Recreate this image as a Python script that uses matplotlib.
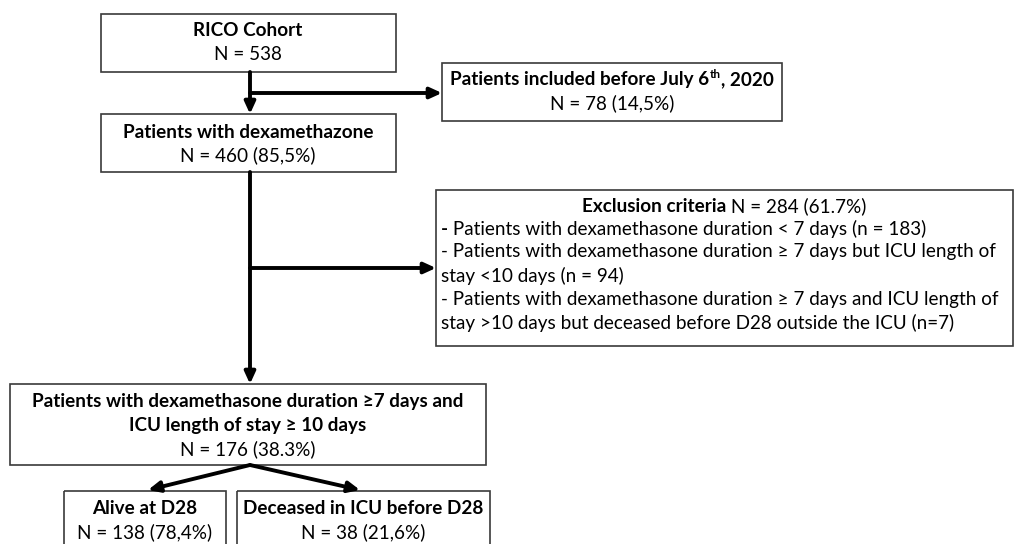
import matplotlib
matplotlib.use("Agg")
import matplotlib.pyplot as plt
from matplotlib.patches import Rectangle

plt.rcParams['font.family'] = ['Lato', 'DejaVu Sans']

# counts shown in the flow chart
cohort_n = 538
dexa_n, dexa_pct = 460, "85,5%"
early_n, early_pct = 78, "14,5%"
excl_n, excl_pct = 284, "61.7%"
excl_counts = [183, 94, 7]
final_n, final_pct = 176, "38.3%"
alive_n, alive_pct = 138, "78,4%"
dead_n, dead_pct = 38, "21,6%"

FS = 13.6
W, H = 1015, 544
fig = plt.figure(figsize=(W / 100, H / 100), dpi=100)
ax = fig.add_axes([0, 0, 1, 1])
ax.set_xlim(0, W)
ax.set_ylim(H, 0)
ax.axis('off')
renderer = fig.canvas.get_renderer()


def box(x0, y0, x1, y1):
    ax.add_patch(Rectangle((x0, y0), x1 - x0, y1 - y0, fill=False,
                           edgecolor='#3a3a3a', lw=1.2))


def line(x, y, segs, ha='center'):
    # segs: list of (text, weight[, size, dy])
    items = []
    total = 0
    for s in segs:
        txt, wt = s[0], s[1]
        size = s[2] if len(s) > 2 else FS
        dy = s[3] if len(s) > 3 else 0
        t = ax.text(0, y + dy, txt, fontsize=size, fontweight=wt,
                    va='center', ha='left', color='black')
        w = t.get_window_extent(renderer).width
        items.append((t, w))
        total += w
    cur = x - total / 2 if ha == 'center' else x
    for t, w in items:
        t.set_x(cur)
        cur += w


def arrow(x0, y0, x1, y1):
    ax.annotate('', xy=(x1, y1), xytext=(x0, y0),
                arrowprops=dict(arrowstyle='-|>,head_length=0.7,head_width=0.32',
                                lw=2.8, color='black', shrinkA=0, shrinkB=0))


# boxes
box(101, 14, 396, 72)
line(248, 31, [("RICO Cohort", 'bold')])
line(248, 55, [(f"N = {cohort_n}", 'normal')])

box(442, 63, 782, 121)
line(612, 80, [("Patients included before July 6", 'bold'),
               ("th", 'bold', FS * 0.62, -5), (", 2020", 'bold')])
line(612, 103, [(f"N = {early_n} ({early_pct})", 'normal')])

box(101, 114, 396, 172)
line(248, 132, [("Patients with dexamethazone", 'bold')])
line(248, 155, [(f"N = {dexa_n} ({dexa_pct})", 'normal')])

box(436, 190, 1013, 346)
line(724, 206, [("Exclusion criteria", 'bold'), (f" N = {excl_n} ({excl_pct})", 'normal')])
line(441, 229, [("-", 'bold'), (f" Patients with dexamethasone duration < 7 days (n = {excl_counts[0]})", 'normal')], ha='left')
line(441, 252, [("- Patients with dexamethasone duration \u2265 7 days but ICU length of", 'normal')], ha='left')
line(441, 276, [(f"stay <10 days (n = {excl_counts[1]})", 'normal')], ha='left')
line(441, 299, [("- Patients with dexamethasone duration \u2265 7 days and ICU length of", 'normal')], ha='left')
line(441, 323, [(f"stay >10 days but deceased before D28 outside the ICU (n={excl_counts[2]})", 'normal')], ha='left')

box(10, 384, 486, 465)
line(248, 402, [("Patients with dexamethasone duration \u22657 days and", 'bold')])
line(248, 426, [("ICU length of stay \u2265 10 days", 'bold')])
line(248, 449, [(f"N = {final_n} ({final_pct})", 'normal')])

box(64, 491, 226, 560)
line(145, 509, [("Alive at D28", 'bold')])
line(145, 532, [(f"N = {alive_n} ({alive_pct})", 'normal')])

box(237, 491, 490, 560)
line(363, 509, [("Deceased in ICU before D28", 'bold')])
line(363, 532, [(f"N = {dead_n} ({dead_pct})", 'normal')])

# arrows
arrow(250, 72, 250, 114)
arrow(250, 93, 442, 93)
arrow(250, 172, 250, 384)
arrow(250, 268, 436, 268)
arrow(250, 465, 148, 490)
arrow(250, 465, 360, 490)

fig.savefig("out.png", dpi=100)
